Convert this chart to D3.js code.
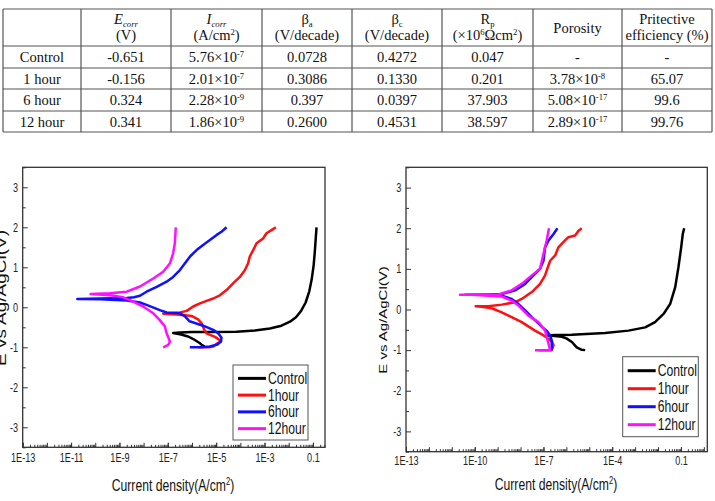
<!DOCTYPE html>
<html>
<head>
<meta charset="utf-8">
<script src="https://cdn.jsdelivr.net/npm/d3@7"></script>
<style>
  body { margin: 0; background: #fff; }
  svg { display: block; }
</style>
</head>
<body>
<svg id="fig" width="715" height="501"></svg>
<script>
// ---- table data ----
const rowNames = ["Control", "1 hour", "6 hour", "12 hour"];
const ecorr = ["-0.651", "-0.156", "0.324", "0.341"];
const icorr = [["5.76", "-7"], ["2.01", "-7"], ["2.28", "-9"], ["1.86", "-9"]];
const betaA = ["0.0728", "0.3086", "0.397", "0.2600"];
const betaC = ["0.4272", "0.1330", "0.0397", "0.4531"];
const rp = ["0.047", "0.201", "37.903", "38.597"];
const porosity = [null, ["3.78", "-8"], ["5.08", "-17"], ["2.89", "-17"]];
const efficiency = ["-", "65.07", "99.6", "99.76"];

// header cells: list of [text, kind] parts
const headTop = [
  [],
  [["E", "i"], ["corr", "isub"]],
  [["I", "i"], ["corr", "isub"]],
  [["β"], ["a", "sub"]],
  [["β"], ["c", "sub"]],
  [["R"], ["p", "sub"]],
  [],
  [["Pritective"]]
];
const headBottom = [
  [],
  [["(V)"]],
  [["(A/cm"], ["2", "sup"], [")"]],
  [["(V/decade)"]],
  [["(V/decade)"]],
  [["(×10"], ["6", "sup"], ["Ωcm"], ["2", "sup"], [")"]],
  [],
  [["efficiency (%)"]]
];

// ---- polarization curves: [log10 current density (A/cm2), E (V)] ----
const seriesNames = ["Control", "1hour", "6hour", "12hour"];
const seriesColors = ["#000000", "#ff1010", "#1010ff", "#ff10ff"];

const leftControl = [[-5.47,-0.98],[-5.6,-0.94],[-5.67,-0.9],[-5.9,-0.81],[-6.16,-0.73],[-6.45,-0.68],[-6.78,-0.64],
  [-6.5,-0.63],[-6.0,-0.62],[-5.3,-0.615],[-4.16,-0.61],[-3.4,-0.58],[-2.78,-0.53],[-2.3,-0.46],[-1.95,-0.36],
  [-1.7,-0.25],[-1.5,-0.1],[-1.3,0.12],[-1.15,0.4],[-1.05,0.7],[-0.97,1.05],[-0.92,1.4],[-0.88,1.75],[-0.85,2.0]];
const left1h = [[-5.74,-1.0],[-5.3,-1.0],[-5.12,-0.98],[-4.95,-0.9],[-4.8,-0.86],[-4.85,-0.82],[-5.05,-0.74],
  [-5.4,-0.65],[-5.5,-0.55],[-5.6,-0.4],[-5.75,-0.3],[-6.0,-0.22],[-6.3,-0.2],[-6.64,-0.18],[-7.19,-0.16],
  [-6.9,-0.15],[-6.5,-0.13],[-6.22,-0.09],[-5.95,0.02],[-5.67,0.1],[-5.4,0.16],[-5.12,0.22],[-4.85,0.3],
  [-4.57,0.43],[-4.3,0.6],[-4.02,0.76],[-3.81,0.93],[-3.68,1.1],[-3.61,1.27],[-3.47,1.43],[-3.33,1.6],
  [-3.06,1.72],[-2.92,1.85],[-2.71,1.93],[-2.53,2.0]];
const left6h = [[-6.09,-1.0],[-5.6,-1.0],[-5.26,-0.98],[-4.95,-0.93],[-4.8,-0.85],[-4.78,-0.76],[-4.9,-0.66],
  [-5.1,-0.57],[-5.54,-0.46],[-6.1,-0.35],[-6.3,-0.22],[-6.5,-0.15],[-7.05,-0.13],[-7.33,-0.07],[-7.88,0.06],
  [-8.15,0.12],[-8.7,0.17],[-9.8,0.2],[-10.74,0.21],
  [-9.8,0.22],[-8.7,0.23],[-8.4,0.25],[-8.15,0.29],[-7.88,0.39],[-7.46,0.51],[-7.05,0.64],[-6.78,0.76],
  [-6.5,0.93],[-6.29,1.1],[-6.08,1.27],[-5.81,1.43],[-5.54,1.56],[-5.26,1.68],[-4.98,1.81],[-4.78,1.89],[-4.57,2.0]];
const left12h = [[-7.19,-1.0],[-6.98,-0.94],[-6.91,-0.86],[-6.98,-0.75],[-7.05,-0.65],[-7.12,-0.48],[-7.33,-0.32],
  [-7.6,-0.15],[-8.02,0.02],[-8.43,0.14],[-8.84,0.25],[-9.39,0.3],[-10.19,0.33],
  [-9.39,0.35],[-8.7,0.39],[-8.15,0.52],[-7.6,0.72],[-7.19,0.89],[-6.91,1.1],[-6.78,1.35],[-6.71,1.6],[-6.67,2.0]];

const rightControl = [[-5.18,-1.0],[-5.35,-0.99],[-5.55,-0.93],[-5.76,-0.8],[-6.0,-0.71],[-6.2,-0.67],[-6.5,-0.65],
  [-6.81,-0.64],[-6.5,-0.63],[-6.2,-0.625],[-5.76,-0.62],[-4.31,-0.58],[-3.29,-0.52],[-2.56,-0.44],[-2.13,-0.31],
  [-1.76,-0.11],[-1.47,0.14],[-1.25,0.55],[-1.11,1.04],[-0.99,1.53],[-0.92,1.86],[-0.86,2.0]];
const right1h = [[-7.2,-1.0],[-6.64,-1.0],[-6.56,-0.88],[-6.62,-0.8],[-6.78,-0.72],[-7.05,-0.62],[-7.37,-0.52],
  [-7.95,-0.31],[-8.39,-0.19],[-8.82,-0.07],[-9.26,0.03],[-9.7,0.07],[-9.96,0.08],
  [-9.41,0.08],[-8.82,0.12],[-8.24,0.18],[-7.95,0.26],[-7.51,0.43],[-7.15,0.63],[-6.93,0.84],[-6.81,1.04],
  [-6.71,1.2],[-6.49,1.33],[-6.35,1.53],[-6.06,1.7],[-5.91,1.78],[-5.62,1.82],[-5.47,1.94],[-5.33,2.0]];
const right6h = [[-6.64,-1.0],[-6.64,-0.76],[-6.71,-0.64],[-6.86,-0.52],[-7.07,-0.43],[-7.22,-0.34],[-7.51,-0.19],
  [-7.8,-0.02],[-8.1,0.14],[-8.39,0.26],[-8.82,0.34],[-9.11,0.36],[-9.41,0.36],[-10.42,0.36],
  [-9.41,0.37],[-8.82,0.38],[-8.24,0.47],[-7.8,0.63],[-7.37,0.88],[-7.15,1.0],[-7.0,1.2],[-6.93,1.53],
  [-6.78,1.7],[-6.56,1.86],[-6.39,2.0]];
const right12h = [[-7.37,-1.0],[-6.71,-1.0],[-6.78,-0.84],[-6.86,-0.68],[-6.93,-0.52],[-7.22,-0.31],[-7.66,-0.15],
  [-8.1,0.1],[-8.39,0.22],[-8.82,0.32],[-9.41,0.34],[-10.13,0.36],[-10.64,0.36],
  [-9.7,0.36],[-8.97,0.37],[-8.39,0.47],[-7.95,0.63],[-7.51,0.84],[-7.15,1.0],[-7.0,1.37],[-6.86,1.7],[-6.76,2.0]];

// axis tick labels
const leftXLabels = ["1E-13", "1E-11", "1E-9", "1E-7", "1E-5", "1E-3", "0.1"];
const rightXLabels = ["1E-13", "1E-10", "1E-7", "1E-4", "0.1"];
const yLabels = ["3", "2", "1", "0", "-1", "-2", "-3"];

const svg = d3.select("#fig");
const SANS = "'Liberation Sans', Arial, sans-serif";
const SERIF = "'Liberation Serif', 'Times New Roman', serif";

// ---------------- table ----------------
const colX = [3, 81, 171, 262, 352, 442, 533, 622, 712];
const rowY = [9, 46, 68, 89, 111, 132];
const table = svg.append("g").attr("font-family", SERIF).attr("fill", "#111");

table.selectAll("line.h").data(rowY).join("line")
  .attr("x1", colX[0]).attr("x2", colX[colX.length - 1])
  .attr("y1", d => d).attr("y2", d => d)
  .attr("stroke", "#555").attr("stroke-width", 1.2);
table.selectAll("line.v").data(colX).join("line")
  .attr("x1", d => d).attr("x2", d => d)
  .attr("y1", rowY[0]).attr("y2", rowY[rowY.length - 1])
  .attr("stroke", "#555").attr("stroke-width", 1.2);

function rich(text, parts, size) {
  let shift = 0;
  parts.forEach(([t, kind]) => {
    const small = kind === "sub" || kind === "isub" || kind === "sup";
    const target = kind === "sup" ? -5 : (kind === "sub" || kind === "isub") ? 2.5 : 0;
    text.append("tspan")
      .attr("dy", target - shift)
      .attr("font-size", small ? size * 0.6 : size)
      .attr("font-style", kind === "i" || kind === "isub" ? "italic" : null)
      .text(t);
    shift = target;
  });
}

const colMid = i => (colX[i] + colX[i + 1]) / 2;
const fs = 14.5;

headTop.forEach((parts, i) => {
  if (!parts.length) return;
  rich(table.append("text").attr("x", colMid(i)).attr("y", 24).attr("text-anchor", "middle"), parts, fs);
});
headBottom.forEach((parts, i) => {
  if (!parts.length) return;
  rich(table.append("text").attr("x", colMid(i)).attr("y", 40).attr("text-anchor", "middle"), parts, fs);
});
table.append("text").attr("x", colMid(6)).attr("y", 33).attr("text-anchor", "middle")
  .attr("font-size", fs).text("Porosity");

const sci = v => v ? [[v[0] + "×10"], [v[1], "sup"]] : [["-"]];
rowNames.forEach((name, r) => {
  const cy = (rowY[r + 1] + rowY[r + 2]) / 2 + 5;
  const cells = [
    [[name]], [[ecorr[r]]], sci(icorr[r]), [[betaA[r]]], [[betaC[r]]],
    [[rp[r]]], sci(porosity[r]), [[efficiency[r]]]
  ];
  cells.forEach((parts, i) => {
    rich(table.append("text").attr("x", colMid(i)).attr("y", cy).attr("text-anchor", "middle"), parts, fs);
  });
});

// ---------------- charts ----------------
const SX = 0.76; // horizontal squeeze of the original figure text

function drawPanel(cfg) {
  const [x0, y0, x1, y1] = cfg.frame;
  const g = svg.append("g").attr("font-family", SANS);
  const x = d3.scaleLog().domain(cfg.xDomain).range([x0, x1]);
  const y = d3.scaleLinear().domain([-3.5, 3.5]).range([y1, y0]);

  const minor = [], decades = [];
  for (let k = -13; k <= 0; k++) {
    if (10 ** k <= cfg.xDomain[1]) decades.push(10 ** k);
    for (let m = 2; m <= 9; m++) {
      const v = m * 10 ** k;
      if (v > cfg.xDomain[0] && v < cfg.xDomain[1]) minor.push(v);
    }
  }
  const noDomain = s => s.select(".domain").remove();

  g.append("g").attr("transform", `translate(0,${y1})`)
    .call(d3.axisBottom(x).tickValues(minor).tickSize(-2.5).tickFormat(""))
    .call(noDomain);
  g.append("g").attr("transform", `translate(0,${y1})`)
    .call(d3.axisBottom(x).tickValues(decades).tickSize(-4.5).tickFormat(""))
    .call(noDomain);
  const xa = g.append("g").attr("transform", `translate(0,${y1})`)
    .call(d3.axisBottom(x).tickValues(cfg.xLabels.map(Number)).tickSize(-4.5).tickPadding(cfg.xPad)
      .tickFormat((d, i) => cfg.xLabels[i]))
    .call(noDomain);
  xa.selectAll("text").attr("font-size", 12).attr("fill", "#222").attr("transform", `scale(${SX},1)`);

  g.append("g").attr("transform", `translate(${x0},0)`)
    .call(d3.axisLeft(y).tickValues(d3.range(-3.5, 3.51, 0.5).filter(v => v % 1 !== 0)).tickSize(-3).tickFormat(""))
    .call(noDomain);
  const ya = g.append("g").attr("transform", `translate(${x0},0)`)
    .call(d3.axisLeft(y).tickValues(yLabels.map(Number)).tickSize(-5).tickPadding(6)
      .tickFormat((d, i) => yLabels[i]))
    .call(noDomain);
  ya.selectAll("text").attr("font-size", 12).attr("fill", "#222").attr("transform", `scale(${SX},1)`);
  g.selectAll(".tick line").attr("stroke", "#333");

  g.append("rect").attr("x", x0).attr("y", y0).attr("width", x1 - x0).attr("height", y1 - y0)
    .attr("fill", "none").attr("stroke", "#333").attr("stroke-width", 1.3);

  const line = d3.line().x(d => x(10 ** d[0])).y(d => y(d[1]));
  g.selectAll("path.curve").data(cfg.series).join("path")
    .attr("class", "curve")
    .attr("d", line)
    .attr("fill", "none")
    .attr("stroke", (d, i) => seriesColors[i])
    .attr("stroke-width", 2.5)
    .attr("stroke-linejoin", "round");

  // legend
  const [lx, ly, lw, lh] = cfg.legend;
  const leg = g.append("g");
  leg.append("rect").attr("x", lx).attr("y", ly).attr("width", lw).attr("height", lh)
    .attr("fill", "#fff").attr("stroke", "#555").attr("stroke-width", 1);
  const step = (lh - 8) / seriesNames.length;
  seriesNames.forEach((name, i) => {
    const cy = ly + 4 + step * (i + 0.5) + 1;
    leg.append("line").attr("x1", lx + 5).attr("x2", lx + 33).attr("y1", cy).attr("y2", cy)
      .attr("stroke", seriesColors[i]).attr("stroke-width", 3);
    leg.append("text").attr("transform", `translate(${lx + 35},${cy + 5.5}) scale(${SX},1)`)
      .attr("font-size", 16).attr("fill", "#111").text(name);
  });

  // axis titles
  const xt = g.append("text").attr("transform", `translate(${cfg.xTitle[0]},${cfg.xTitle[1]}) scale(${SX},1)`)
    .attr("text-anchor", "middle").attr("font-size", 16).attr("fill", "#111");
  xt.append("tspan").text("Current density(A/cm");
  xt.append("tspan").attr("dy", -6).attr("font-size", 10).text("2");
  xt.append("tspan").attr("dy", 6).text(")");

  g.append("text")
    .attr("transform", `translate(${cfg.yTitle[0]},${cfg.yTitle[1]}) scale(${SX},1) rotate(-90)`)
    .attr("text-anchor", "middle").attr("font-size", cfg.yTitle[2]).attr("fill", "#111")
    .text("E vs Ag/AgCl(V)");
}

drawPanel({
  frame: [22.7, 167.3, 325, 447.3],
  xDomain: [1e-13, 10 ** -0.5],
  xLabels: leftXLabels,
  xPad: 6,
  series: [leftControl, left1h, left6h, left12h],
  legend: [233, 365, 75, 75],
  xTitle: [173, 491],
  yTitle: [6, 298, 19]
});
drawPanel({
  frame: [406, 167.3, 707.3, 451.7],
  xDomain: [1e-13, 10 ** 0.15],
  xLabels: rightXLabels,
  xPad: 5,
  series: [rightControl, right1h, right6h, right12h],
  legend: [622.7, 356.7, 75.6, 80],
  xTitle: [556, 490],
  yTitle: [387, 320, 15]
});
</script>
</body>
</html>
